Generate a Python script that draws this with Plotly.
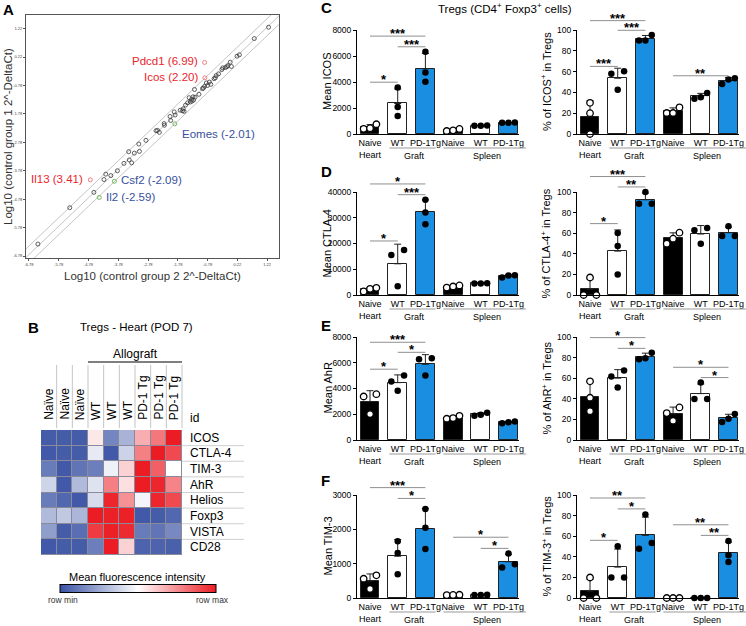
import numpy as np
import plotly.graph_objects as go

W, H = 746, 626
FONT = "Liberation Sans, Arial, sans-serif"
FONT_A = "Liberation Sans, Arial, sans-serif"

# ---------------- Panel A data (log10 2^-DeltaCt) ----------------
a_group2 = [-6.48, -5.41, -4.60, -4.26, -4.20, -4.03, -3.81, -3.59, -3.43, -3.41, -3.33, -3.24,
            -3.09, -3.07, -2.85, -2.51, -2.46, -2.40, -2.24, -2.23, -2.04, -2.02, -1.90, -1.87,
            -1.70, -1.62, -1.57, -1.52, -1.45, -1.40, -1.36, -1.32, -1.27, -1.25, -1.22, -1.20,
            -1.07, -0.95, -0.92, -0.88, -0.82, -0.72, -0.67, -0.52, -0.49, -0.41, -0.27, -0.18,
            -0.13, -0.02, 0.02, 0.21, 0.29, 0.79, 1.27, -0.56, -0.30, -0.10, -1.30, -1.60, -0.78]
a_group1 = [-6.36, -5.08, -4.54, -4.09, -3.90, -3.95, -3.78, -3.52, -3.11, -3.40, -3.50, -3.16,
            -2.84, -3.10, -2.71, -2.37, -2.36, -2.43, -2.12, -2.18, -1.87, -2.01, -1.71, -1.82,
            -1.65, -1.67, -1.69, -1.47, -1.39, -1.21, -1.36, -1.27, -1.18, -1.29, -0.92, -1.19,
            -1.09, -0.89, -0.87, -0.81, -0.69, -0.66, -0.74, -0.51, -0.43, -0.37, -0.16, -0.15,
            -0.12, 0.04, -0.11, 0.25, 0.30, 0.87, 1.27, -0.54, -0.22, -0.08, -1.33, -1.60, -0.78]
a_up_labels = ["Pdcd1 (6.99)", "Icos (2.20)", "Il13 (3.41)"]
a_up_x = [-0.88, -0.87, -4.72]
a_up_y = [0.03, -0.51, -4.10]
a_down_labels = ["Eomes (-2.01)", "Csf2 (-2.09)", "Il2 (-2.59)"]
a_down_x = [-1.88, -3.91, -4.42]
a_down_y = [-2.13, -4.15, -4.72]
a_ticks = [-6.78, -5.78, -4.78, -3.78, -2.78, -1.78, -0.78, 0.22, 1.22]

# ---------------- Panel B data (row-scaled MFI) ----------------
b_genes = ["ICOS", "CTLA-4", "TIM-3", "AhR", "Helios", "Foxp3", "VISTA", "CD28"]
b_samples = ["Naïve", "Naïve", "Naïve", "WT", "WT", "WT", "PD-1 Tg", "PD-1 Tg", "PD-1 Tg"]
b_icos = [0.03, 0.03, 0.03, 0.55, 0.15, 0.28, 0.68, 0.80, 1.00]
b_ctla4 = [0.02, 0.03, 0.03, 0.44, 0.02, 0.37, 0.78, 1.00, 0.90]
b_tim3 = [0.12, 0.02, 0.10, 0.13, 0.46, 0.60, 1.00, 0.85, 0.50]
b_ahr = [0.38, 0.02, 0.30, 0.42, 0.78, 0.57, 1.00, 0.98, 0.77]
b_helios = [0.12, 0.06, 0.02, 0.40, 0.98, 0.74, 0.47, 0.98, 0.90]
b_foxp3 = [0.30, 0.34, 0.29, 1.00, 0.99, 0.99, 0.02, 0.03, 0.06]
b_vista = [0.22, 0.03, 0.08, 0.93, 0.99, 0.97, 0.12, 0.10, 0.16]
b_cd28 = [0.02, 0.03, 0.03, 0.13, 1.00, 0.60, 0.05, 0.05, 0.04]

# ---------------- Panels C-F data (individual mice) ----------------
bar_cats = ["Naive<br>Heart", "WT", "PD-1Tg", "Naive", "WT", "PD-1Tg"]
c_icos_mfi = [[400, 750, 450], [3570, 2080, 1390], [6320, 4730, 4010],
              [230, 390, 280], [640, 650, 640], [870, 880, 860]]
c_icos_pct = [[30, 20, 0], [60.3, 58, 42.6], [95.2, 90, 90],
              [25.6, 20.2, 20.2], [39.4, 34, 35.3], [48, 53.5, 52.5]]
d_ctla4_mfi = [[1400, 2400, 2800], [17460, 15500, 3390], [37000, 32050, 27500],
               [2900, 3700, 3300], [4500, 4600, 4500], [6800, 7700, 7600]]
d_ctla4_pct = [[17, 0, 0], [60.2, 47.6, 20], [100, 88.7, 88.7],
               [60.5, 54.7, 49.8], [65, 62.8, 49.8], [66.7, 57.3, 57.3]]
e_ahr_mfi = [[3560, 3380, 2010], [5010, 4540, 3820], [6350, 6270, 5010],
             [1650, 1880, 1700], [1880, 2120, 1960], [1300, 1440, 1380]]
e_ahr_pct = [[57, 28, 41], [67.4, 61.6, 51], [84.8, 78.4, 79.4],
             [31.6, 26.1, 18.7], [55.8, 39.7, 39.7], [25.2, 20.6, 17.4]]
f_tim3_mfi = [[660, 560, 265], [1650, 1310, 690], [2590, 2045, 1426],
              [85, 95, 90], [90, 95, 85], [1298, 885, 983]]
f_tim3_pct = [[19.9, 0, 0], [50.2, 19.9, 19.9], [81, 53.4, 47.9],
              [0, 0, 0], [0, 0, 0], [55.3, 41.5, 35.0]]

mfi8000_ticks = [0, 2000, 4000, 6000, 8000]
pct_ticks = [0, 20, 40, 60, 80, 100]
ctla4_ticks = [0, 10000, 20000, 30000, 40000]
tim3_ticks = [0, 1000, 2000, 3000]

# significance: (group a, group b, bar height, stars)
c_mfi_sig = [(0, 1, 3985, "*"), (0, 2, 7530, "***"), (1, 2, 6710, "***")]
c_pct_sig = [(0, 1, 65, "***"), (0, 2, 109, "***"), (1, 2, 99.7, "***"), (3, 5, 56, "**")]
d_mfi_sig = [(0, 1, 20980, "*"), (0, 2, 43130, "*"), (1, 2, 38960, "***")]
d_pct_sig = [(0, 1, 69.3, "*"), (0, 2, 115, "***"), (1, 2, 104.9, "**")]
e_mfi_sig = [(0, 1, 5500, "*"), (0, 2, 7590, "***"), (1, 2, 6810, "*")]
e_pct_sig = [(0, 2, 99.4, "*"), (1, 2, 89, "*"), (3, 5, 70.6, "*"), (4, 5, 60.6, "*")]
f_mfi_sig = [(0, 2, 3215, "***"), (1, 2, 2900, "*"), (3, 5, 1770, "*"), (4, 5, 1445, "*")]
f_pct_sig = [(0, 1, 56, "*"), (0, 2, 97.1, "**"), (1, 2, 86.5, "*"), (3, 5, 71.1, "**"), (4, 5, 60.8, "**")]

# ================= helpers =================
def px(x):
    return x / W


def py(y):
    return 1 - y / H


fig = go.Figure()
annotations = []
shapes = []
layout_axes = {}


def ann(text, x, y, size=11, xanchor="center", yanchor="middle", angle=0, color="black",
        family=FONT, **kw):
    annotations.append(dict(text=text, x=px(x), y=py(y), xref="paper", yref="paper",
                            showarrow=False, xanchor=xanchor, yanchor=yanchor, textangle=angle,
                            font=dict(size=size, color=color, family=family), **kw))


def hline(x0, x1, y, color="black", width=1):
    shapes.append(dict(type="line", xref="paper", yref="paper", x0=px(x0), x1=px(x1),
                       y0=py(y), y1=py(y), line=dict(color=color, width=width)))


def vline(x, y0, y1, color="black", width=1):
    shapes.append(dict(type="line", xref="paper", yref="paper", x0=px(x), x1=px(x),
                       y0=py(y0), y1=py(y1), line=dict(color=color, width=width)))


# ================= Panel A =================
A_X = (26, 279)
A_Y = (15, 258)
a_xr = [-6.88, 1.62]
a_yr = [-6.85, 1.70]
diag = np.array(a_xr) + np.array([-1, 1])
for off in (-0.25, 0.05, 0.35):
    fig.add_trace(go.Scatter(x=diag, y=diag + off, mode="lines",
                             line=dict(color="#b5b5b5", width=0.8),
                             hoverinfo="skip", showlegend=False, xaxis="x", yaxis="y"))
fig.add_trace(go.Scatter(x=a_group2, y=a_group1, mode="markers",
                         marker=dict(symbol="circle-open", size=4, color="#3a3a3a",
                                     line=dict(width=0.8)),
                         hoverinfo="skip", showlegend=False, xaxis="x", yaxis="y"))
fig.add_trace(go.Scatter(x=a_up_x, y=a_up_y, mode="markers",
                         marker=dict(symbol="circle-open", size=4, color="#f07070",
                                     line=dict(width=0.9)),
                         hoverinfo="skip", showlegend=False, xaxis="x", yaxis="y"))
fig.add_trace(go.Scatter(x=a_down_x, y=a_down_y, mode="markers",
                         marker=dict(symbol="circle-open", size=4, color="#62b04a",
                                     line=dict(width=0.9)),
                         hoverinfo="skip", showlegend=False, xaxis="x", yaxis="y"))
axA = dict(showline=True, mirror=True, linecolor="#555", linewidth=1, ticks="outside",
           ticklen=2, tickwidth=0.6, tickcolor="#555", showgrid=False, zeroline=False,
           tickvals=a_ticks, ticktext=[f"{t:.2f}" for t in a_ticks], automargin=False,
           tickfont=dict(size=4, color="#444", family=FONT), fixedrange=True)
layout_axes["xaxis"] = dict(axA, domain=[px(A_X[0]), px(A_X[1])], range=a_xr, anchor="y")
layout_axes["yaxis"] = dict(axA, domain=[py(A_Y[1]), py(A_Y[0])], range=a_yr, anchor="x")


def a_to_px(xv, yv):
    X = A_X[0] + (xv - a_xr[0]) / (a_xr[1] - a_xr[0]) * (A_X[1] - A_X[0])
    Y = A_Y[1] - (yv - a_yr[0]) / (a_yr[1] - a_yr[0]) * (A_Y[1] - A_Y[0])
    return X, Y


for lab, xv, yv in zip(a_up_labels, a_up_x, a_up_y):
    X, Y = a_to_px(xv, yv)
    ann(lab, X - 5, Y - 1, size=11.5, xanchor="right", color="#e8262d", family=FONT_A)
dshift = [(5, 10), (5, -1), (5, 0)]
for (lab, xv, yv), (dx, dy) in zip(zip(a_down_labels, a_down_x, a_down_y), dshift):
    X, Y = a_to_px(xv, yv)
    ann(lab, X + dx, Y + dy, size=11.5, xanchor="left", color="#3850a0", family=FONT_A)
ann("Log10 (control group 2 2^-DeltaCt)", 152, 276, size=11.5, color="#333", family=FONT_A)
ann("Log10 (control group 1 2^-DeltaCt)", 8, 137, size=11.5, angle=-90, color="#333",
    family=FONT_A)
ann("<b>A</b>", 1, 9, size=15, xanchor="left")

# ================= Panel B =================
B_X = (41, 182)
B_Y = (430, 555)
b_z = [b_icos, b_ctla4, b_tim3, b_ahr, b_helios, b_foxp3, b_vista, b_cd28]
b_scale = [[0, "#3952a4"], [0.5, "#ffffff"], [1, "#ec1c24"]]
cw = (B_X[1] - B_X[0]) / len(b_samples)
ch = (B_Y[1] - B_Y[0]) / len(b_genes)
shapes.append(dict(type="rect", xref="paper", yref="paper", layer="below",
                   x0=px(B_X[0]), x1=px(B_X[1]), y0=py(B_Y[1]), y1=py(B_Y[0]),
                   fillcolor="#8a8a9a", line=dict(width=0)))
fig.add_trace(go.Heatmap(z=b_z, x=list(range(len(b_samples))), y=list(range(len(b_genes))),
                         colorscale=b_scale, zmin=0, zmax=1, xgap=1, ygap=1,
                         hoverinfo="skip", xaxis="x2", yaxis="y2",
                         colorbar=dict(orientation="h", x=px(138), y=py(589),
                                       xanchor="center", yanchor="middle",
                                       lenmode="pixels", len=156, thicknessmode="pixels",
                                       thickness=8, showticklabels=False, ticks="",
                                       outlinecolor="black", outlinewidth=1,
                                       xpad=0, ypad=0)))
layout_axes["xaxis2"] = dict(domain=[px(B_X[0]), px(B_X[1])], range=[-0.5, 8.5],
                             visible=False, anchor="y2", fixedrange=True, automargin=False)
layout_axes["yaxis2"] = dict(domain=[py(B_Y[1]), py(B_Y[0])], range=[7.5, -0.5],
                             visible=False, anchor="x2", fixedrange=True, automargin=False)
for k in range(1, len(b_samples) + 1):
    vline(B_X[0] + k * cw, 365, 428, color="#c4c4c4", width=1)
for i, s in enumerate(b_samples):
    ann(s, B_X[0] + (i + 0.5) * cw, 422, size=12, angle=-90, yanchor="bottom")
for r in range(1, len(b_genes)):
    hline(B_X[1], 244, B_Y[0] + r * ch, color="#cfcfcf", width=1)
for r, g in enumerate(b_genes):
    ann(g, 188, B_Y[0] + (r + 0.5) * ch, size=12, xanchor="left")
ann("id", 188, 418, size=12, xanchor="left")
ann("Allograft", 135, 354, size=12)
hline(88, 182, 362, color="black", width=1.2)
ann("Tregs - Heart (POD 7)", 136, 327, size=11.5)
ann("<b>B</b>", 26, 327, size=15, xanchor="left")
ann("Mean fluorescence intensity", 137, 577, size=11)
ann("row min", 46, 600, size=8.5, xanchor="left", color="#333")
ann("row max", 231, 600, size=8.5, xanchor="right", color="#333")

# ================= Panels C-F =================
BAR_XR = [-0.47, 5.38]
bar_fill = ["black", "white", "#1a8fe2", "black", "white", "#1a8fe2"]
open_group = [True, False, False, True, False, False]
LEFT_X = (357, 519)
RIGHT_X = (577, 739)
ROWS = [(30, 134), (192, 295), (337, 440), (495, 598)]

charts = [
    (c_icos_mfi, mfi8000_ticks, "Mean ICOS", c_mfi_sig, LEFT_X, ROWS[0]),
    (c_icos_pct, pct_ticks, "% of ICOS<sup>+</sup> in Tregs", c_pct_sig, RIGHT_X, ROWS[0]),
    (d_ctla4_mfi, ctla4_ticks, "Mean CTLA-4", d_mfi_sig, LEFT_X, ROWS[1]),
    (d_ctla4_pct, pct_ticks, "% of CTLA-4<sup>+</sup> in Tregs", d_pct_sig, RIGHT_X, ROWS[1]),
    (e_ahr_mfi, mfi8000_ticks, "Mean AhR", e_mfi_sig, LEFT_X, ROWS[2]),
    (e_ahr_pct, pct_ticks, "% of AhR<sup>+</sup> in Tregs", e_pct_sig, RIGHT_X, ROWS[2]),
    (f_tim3_mfi, tim3_ticks, "Mean TIM-3", f_mfi_sig, LEFT_X, ROWS[3]),
    (f_tim3_pct, pct_ticks, "% of TIM-3<sup>+</sup> in Tregs", f_pct_sig, RIGHT_X, ROWS[3]),
]


def swarm_offsets(vals, ymax, hpx, dot=6.5, step=0.23):
    ypix = [v / ymax * hpx for v in vals]
    order = sorted(range(len(vals)), key=lambda i: vals[i])
    clusters = [[order[0]]]
    for i in order[1:]:
        if ypix[i] - ypix[clusters[-1][-1]] < dot:
            clusters[-1].append(i)
        else:
            clusters.append([i])
    offs = [0.0] * len(vals)
    for cl in clusters:
        n = len(cl)
        if n == 1:
            continue
        pos = [-step, step] if n == 2 else [(k - (n - 1) / 2) * step for k in range(n)]
        for k, i in enumerate(cl):
            offs[i] = pos[k]
    return offs


for ci, (groups, ticks, ytitle, sigs, XP, YP) in enumerate(charts):
    n = ci + 3
    xa, ya = f"x{n}", f"y{n}"
    ymax = ticks[-1]
    hpx = YP[1] - YP[0]
    means = [float(np.mean(g)) for g in groups]
    sds = [float(np.std(g, ddof=1)) for g in groups]
    fig.add_trace(go.Bar(x=list(range(6)), y=means, width=0.68,
                         marker=dict(color=bar_fill, line=dict(color="#222", width=1)),
                         error_y=dict(type="data", array=sds, arrayminus=[0] * 6,
                                      symmetric=False, color="#222", thickness=1, width=3.5),
                         hoverinfo="skip", showlegend=False, xaxis=xa, yaxis=ya))
    for is_open in (True, False):
        xs, ys = [], []
        for gi, g in enumerate(groups):
            if open_group[gi] != is_open:
                continue
            offs = swarm_offsets(g, ymax, hpx)
            xs += [gi + o for o in offs]
            ys += list(g)
        fig.add_trace(go.Scatter(x=xs, y=ys, mode="markers", cliponaxis=False,
                                 marker=dict(size=6.5, color="white" if is_open else "black",
                                             line=dict(color="black", width=1.3 if is_open else 0)),
                                 hoverinfo="skip", showlegend=False, xaxis=xa, yaxis=ya))
    layout_axes[f"xaxis{n}"] = dict(domain=[px(XP[0]), px(XP[1])], range=BAR_XR, anchor=ya,
                                    showline=True, linecolor="black", linewidth=1, ticks="",
                                    tickvals=list(range(6)), ticktext=bar_cats, tickangle=0,
                                    tickfont=dict(size=9, color="black", family=FONT),
                                    showgrid=False, zeroline=False, fixedrange=True,
                                    automargin=False)
    layout_axes[f"yaxis{n}"] = dict(domain=[py(YP[1]), py(YP[0])], range=[0, ymax], anchor=xa,
                                    showline=True, linecolor="black", linewidth=1,
                                    ticks="outside", ticklen=3, tickwidth=1, tickcolor="black",
                                    tickvals=ticks, ticktext=[str(t) for t in ticks],
                                    tickfont=dict(size=8.5, color="black", family=FONT),
                                    showgrid=False, zeroline=False, fixedrange=True,
                                    automargin=False)

    def to_px(xv, yv, XP=XP, YP=YP, ymax=ymax):
        X = XP[0] + (xv - BAR_XR[0]) / (BAR_XR[1] - BAR_XR[0]) * (XP[1] - XP[0])
        Y = YP[1] - yv / ymax * (YP[1] - YP[0])
        return X, Y

    for a, b, yv, stars in sigs:
        X0, Y = to_px(a, yv)
        X1, _ = to_px(b, yv)
        hline(X0, X1, Y, color="#8f8f8f", width=1)
        ann("<b>" + stars + "</b>", (X0 + X1) / 2, Y - 2.5, size=13)
    # group underlines
    base = YP[1]
    gx0, _ = to_px(0.70, 0)
    gx1, _ = to_px(2.37, 0)
    sx0, _ = to_px(2.65, 0)
    sx1, _ = to_px(5.63, 0)
    hline(gx0, gx1, base + 14, color="#999", width=1)
    hline(sx0, sx1, base + 14, color="#999", width=1)
    ann("Graft", (gx0 + gx1) / 2 + 2, base + 22, size=9)
    ann("Spleen", (sx0 + sx1) / 2 + 2, base + 22, size=9)
    # y title
    tx = 327 if XP == LEFT_X else 546
    ann(ytitle, tx, (YP[0] + YP[1]) / 2, size=11, angle=-90, family=FONT)

ann("<b>C</b>", 319, 8, size=15, xanchor="left")
ann("<b>D</b>", 319, 171, size=15, xanchor="left")
ann("<b>E</b>", 319, 325, size=15, xanchor="left")
ann("<b>F</b>", 319, 480, size=15, xanchor="left")
ann("Tregs (CD4<sup>+</sup> Foxp3<sup>+</sup> cells)", 505, 8, size=11.5)

fig.update_layout(template="none", width=W, height=H, margin=dict(l=0, r=0, t=0, b=0, pad=0),
                  paper_bgcolor="white", plot_bgcolor="white",
                  font=dict(family=FONT, color="black"), showlegend=False,
                  annotations=annotations, shapes=shapes, bargap=0, **layout_axes)
fig.write_html("out.html", config={"displayModeBar": False},
               post_script="document.body.style.margin='0';document.body.style.padding='0';")
